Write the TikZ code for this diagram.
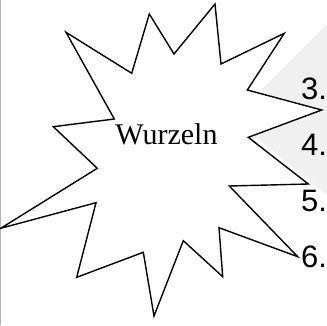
\documentclass[tikz,border=0pt]{standalone}
\usepackage{fontspec}
\setmainfont{Liberation Serif}
\newfontfamily\listfont{Liberation Sans}

\begin{document}
\begin{tikzpicture}[x=1pt, y=-1pt]
\useasboundingbox (0,0) rectangle (327,325);
\clip (0,0) rectangle (327,325);
\fill[white] (0,0) rectangle (327,325);
\draw[gray!60, line width=1.5pt] (0,0) -- (0,325);
\fill[black!6] (233,118) -- (327,24) -- (327,195) -- cycle;
% star
\draw[line width=1.4pt, fill=white, line join=miter] (215,4) -- (221,64) -- (284.3,33.3) -- (247.3,90) -- (321.7,110) -- (248.3,137.3) -- (308.3,184) -- (229.3,186) -- (297.7,256.7) -- (219,227.7) -- (222.7,276.7) -- (183.3,240.7) -- (154,316) -- (143.3,252.3) -- (76.7,277.3) -- (96,202.7) -- (0.7,228.3) -- (97.3,168.3) -- (53.3,126.7) -- (114.3,119) -- (66,32.3) -- (131.7,73.3) -- (149.3,14) -- (174,54) -- cycle;
\node[anchor=base, inner sep=0pt, font=\fontsize{30}{36}\selectfont] (wurzeln) at (166.5,144) {Wurzeln};
% list numbers
\node[anchor=base west, inner sep=0pt, font=\listfont\fontsize{31}{36}\selectfont] (n3) at (301,99) {3.};
\node[anchor=base west, inner sep=0pt, font=\listfont\fontsize{31}{36}\selectfont] (n4) at (301,155) {4.};
\node[anchor=base west, inner sep=0pt, font=\listfont\fontsize{31}{36}\selectfont] (n5) at (301,211) {5.};
\node[anchor=base west, inner sep=0pt, font=\listfont\fontsize{31}{36}\selectfont] (n6) at (301,267) {6.};
\end{tikzpicture}
\end{document}
